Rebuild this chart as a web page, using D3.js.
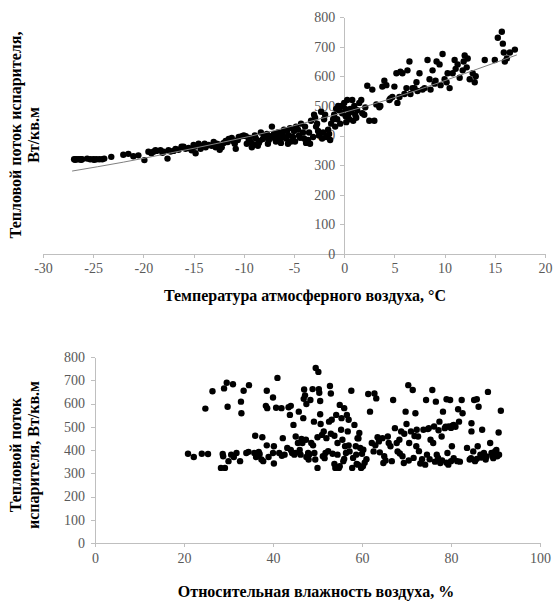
<!DOCTYPE html>
<html>
<head>
<meta charset="utf-8">
<script src="https://cdn.jsdelivr.net/npm/d3@7/dist/d3.min.js"></script>
<style>
  html, body { margin: 0; padding: 0; background: #fff; }
  svg { display: block; }
  .tick text { font-family: "Liberation Serif", "Times New Roman", Times, serif; font-size: 14px; fill: #595959; }
  .axis path, .axis line { stroke: #bfbfbf; shape-rendering: crispEdges; }
  .axis-title { font-family: "Liberation Serif", "Times New Roman", Times, serif; font-size: 16px; font-weight: bold; fill: #000; }
  .dot { fill: #000; }
  .trend { fill: none; stroke: #808080; stroke-width: 1; }
</style>
</head>
<body>
<svg id="chart" width="558" height="601"></svg>
<script>
// Chart 1: heat flux of the evaporator vs outdoor air temperature, [°C, W/m2]
const TEMP_POINTS = [
  [-26.9,320],[-26.7,320],[-26.5,320],[-26.3,320],[-26.1,320],[-26.8,318],[-26.2,318],[-25.6,322],
  [-25.3,320],[-25.0,320],[-24.7,320],[-24.4,320],[-24.9,318],[-24.1,320],[-23.9,322],[-23.2,328],
  [-22.0,335],[-21.5,338],[-21.0,330],[-20.5,333],[-19.9,317],[-19.5,345],[-19.2,340],[-19.0,345],
  [-18.8,350],[-18.7,348],[-18.3,350],[-18.1,342],[-18.0,345],[-17.6,322],[-17.5,350],[-17.3,346],
  [-17.0,348],[-16.8,355],[-16.5,352],[-16.2,362],[-16.0,362],[-15.8,355],[-15.5,358],[-15.2,350],
  [-15.0,368],[-14.9,362],[-14.8,340],[-14.5,372],[-14.3,355],[-14.2,365],[-13.9,372],[-13.8,360],
  [-13.5,368],[-13.2,365],[-13.0,378],[-12.8,360],[-12.7,372],[-12.5,370],[-12.2,360],[-12.0,375],
  [-11.8,382],[-11.6,378],[-11.5,388],[-11.2,392],[-11.0,380],[-10.8,355],[-10.6,385],[-10.5,395],
  [-10.2,398],[-10.0,400],[-9.8,398],[-9.7,372],[-9.5,385],[-9.3,378],[-9.2,360],[-9.0,370],
  [-8.9,400],[-8.8,390],[-8.6,365],[-8.5,375],[-8.3,410],[-8.1,388],[-8.0,400],[-7.8,395],
  [-7.7,405],[-7.5,385],[-7.3,398],[-7.2,430],[-7.0,405],[-6.9,390],[-6.8,380],[-6.6,410],
  [-6.5,395],[-6.3,375],[-6.2,410],[-6.1,400],[-6.0,420],[-5.8,390],[-5.7,415],[-5.5,400],
  [-5.4,425],[-5.3,380],[-5.1,395],[-5.0,415],[-4.9,380],[-4.8,430],[-4.6,420],[-4.5,400],
  [-4.3,440],[-4.1,410],[-4.0,390],[-3.9,430],[-3.8,375],[-3.6,385],[-3.5,410],[-3.3,450],
  [-3.1,395],[-3.0,470],[-2.9,460],[-2.8,430],[-2.6,415],[-2.5,400],[-2.3,480],[-2.2,390],
  [-2.0,455],[-1.9,470],[-1.8,395],[-1.6,420],[-1.5,405],[-1.3,440],[-1.1,455],[-1.0,470],
  [-0.9,430],[-0.8,490],[-0.6,500],[-0.5,485],[-0.3,500],[-0.2,475],[0.0,510],[0.1,490],
  [0.2,445],[0.3,520],[0.4,470],[0.5,455],[0.6,490],[0.7,480],[0.8,520],[0.9,450],
  [1.0,500],[1.2,460],[1.3,485],[1.5,510],[1.7,520],[1.8,475],[2.0,470],[2.1,495],
  [2.3,568],[2.5,450],[2.8,555],[3.0,450],[3.2,505],[3.5,495],[3.6,500],[3.8,565],
  [4.0,585],[4.2,570],[4.5,520],[4.6,525],[4.8,530],[5.0,565],[5.2,610],[5.3,510],
  [5.5,530],[5.6,615],[5.8,610],[6.0,540],[6.2,560],[6.3,620],[6.5,650],[6.6,540],
  [6.8,560],[7.0,560],[7.2,580],[7.3,550],[7.5,610],[7.8,555],[8.0,560],[8.3,655],
  [8.5,590],[8.6,555],[8.8,620],[9.0,575],[9.1,585],[9.2,650],[9.5,640],[9.6,570],
  [9.8,675],[10.0,590],[10.2,580],[10.3,610],[10.5,560],[10.8,610],[11.0,655],[11.1,625],
  [11.3,640],[11.5,595],[11.8,620],[11.9,650],[12.0,670],[12.2,630],[12.3,660],[12.5,590],
  [12.8,610],[13.0,580],[13.1,600],[14.0,655],[15.0,655],[15.3,730],[15.7,750],[15.8,710],
  [15.9,680],[16.0,650],[16.2,660],[16.5,680],[17.0,690],
  [-9.4,392],[-8.4,382],[-7.6,372],[-6.4,388],[-5.6,372],[-4.4,392],[-3.4,372],[-2.7,440],
  [-2.1,410],[-1.4,385],[-0.7,455],[-0.4,440],[0.15,465],[1.1,470],[-12.4,352],[-10.9,372]
];

// Trend curve
const TREND_POINTS = [
  [-27.1,280],[-22,310],[-17.3,341],[-12,378],[-7,416],[-2,460],[0,478],[2.6,503],[7,550],[12,609],[17.2,672]
];

// Chart 2: heat flux of the evaporator vs relative air humidity, [%, W/m2]
const HUMIDITY_POINTS = [
  [20.9,384],[22.2,370],[24.0,384],[25.4,383],[24.8,578],[26.4,653],[28.7,383],[28.3,323],
  [29.2,323],[28.8,373],[29.0,665],[29.6,689],[29.8,586],[31.0,683],[30.6,380],[31.8,387],
  [32.6,352],[32.8,608],[32.9,558],[33.4,655],[34.6,679],[34.0,387],[36.0,461],[35.8,387],
  [36.2,370],[37.4,359],[37.6,455],[37.8,352],[38.4,590],[38.7,580],[38.6,655],[38.6,420],
  [40.0,626],[40.2,416],[40.0,387],[40.2,342],[40.7,582],[41.0,710],[41.4,387],[41.9,580],
  [42.2,451],[42.6,380],[43.2,409],[43.5,584],[43.8,551],[44.0,590],[44.3,387],[44.6,508],
  [45.1,458],[45.0,387],[45.8,565],[46.2,380],[46.6,430],[46.8,537],[46.9,620],[47.0,660],
  [47.2,635],[47.4,444],[47.5,598],[47.9,387],[48.0,359],[48.4,615],[48.6,430],[48.9,662],
  [49.2,522],[49.3,387],[49.5,359],[49.6,753],[50.0,323],[50.2,736],[50.3,662],[50.4,646],
  [50.6,611],[50.6,554],[50.7,512],[51.0,465],[51.2,373],[51.4,480],[51.8,387],[52.0,451],
  [52.6,522],[52.8,675],[53.0,643],[53.2,530],[53.4,384],[53.8,461],[54.0,323],[54.2,551],
  [54.5,380],[54.8,323],[55.0,594],[55.3,487],[55.4,537],[55.6,444],[55.8,352],[56.0,580],
  [56.2,416],[56.4,387],[56.6,551],[56.8,480],[57.0,530],[57.2,394],[57.6,655],[57.8,323],
  [58.0,366],[58.3,508],[58.6,416],[58.7,380],[59.0,451],[59.1,337],[59.4,473],[59.6,409],
  [59.8,323],[60.0,384],[60.2,330],[60.3,401],[61.4,641],[61.8,565],[62.2,430],[62.6,394],
  [62.8,643],[63.2,622],[63.5,455],[63.8,437],[64.6,451],[64.8,344],[65.0,373],[65.8,458],
  [66.4,416],[66.7,352],[67.0,615],[67.4,494],[67.8,430],[68.0,394],[68.4,444],[68.8,480],
  [69.1,373],[69.4,344],[69.8,565],[70.0,512],[70.4,679],[70.6,430],[71.0,480],[71.4,658],
  [71.6,366],[72.0,558],[72.2,416],[72.3,487],[72.6,458],[73.1,342],[73.8,487],[74.2,337],
  [74.4,615],[74.6,380],[75.0,494],[75.4,444],[75.8,658],[76.0,430],[76.2,501],[76.6,608],
  [76.8,380],[77.1,366],[77.4,522],[77.6,344],[77.9,458],[78.2,565],[78.6,494],[79.0,618],
  [79.2,387],[79.4,337],[79.5,501],[79.8,615],[80.0,352],[80.2,416],[80.3,504],[80.6,508],
  [81.4,352],[81.6,575],[81.8,522],[82.4,615],[82.6,558],[83.6,409],[84.2,359],[84.6,515],
  [84.6,480],[85.0,394],[85.2,615],[85.4,352],[85.8,618],[86.0,416],[86.2,586],[86.6,380],
  [87.0,487],[87.4,387],[87.8,359],[88.3,650],[88.8,430],[89.1,387],[89.4,373],[89.9,394],
  [90.4,373],[90.7,475],[91.2,569],[90.8,380],
  [47.5,370],[48.2,382],[51.6,365],[52.4,395],[53.8,340],[55.0,330],[56.0,362],[58.8,340],
  [60.6,345],[61.0,360],[64.0,390],[65.3,355],[68.5,385],[70.5,355],[72.8,395],[73.5,360],
  [75.2,360],[76.4,350],[78.0,355],[79.0,345],[80.6,365],[82.0,350],[84.5,365],[85.8,362],
  [86.8,368],[88.0,372],[89.5,365],[90.2,400],[44.0,400],[42.0,375],[39.0,370],[37.0,383],
  [34.5,392],[31.2,370],[30.0,352],[36.8,392],[46.0,400],[44.8,380],[54.5,430],[57.0,420],
  [59.2,450],[63.0,420],[66.0,430],[69.5,470],[71.8,460],[74.8,490],[77.2,485],[78.8,500],
  [80.0,495],[81.0,500],[53.0,470],[50.0,455],[49.0,420],[46.4,448],[45.6,430]
];

const TEMP_TICKS = [-30, -25, -20, -15, -10, -5, 0, 5, 10, 15, 20];
const HUMIDITY_TICKS = [0, 20, 40, 60, 80, 100];
const FLUX_TICKS_1 = [0, 100, 200, 300, 400, 500, 600, 700, 800];
const FLUX_TICKS_2 = [0, 100, 200, 300, 400, 500, 600, 700, 800];

(function () {
  'use strict';

  const svg = d3.select('#chart');
  const dotR = 3.2;

  // ---- Chart 1: temperature ----
  const x1 = d3.scaleLinear().domain([-30, 20]).range([43, 545]);
  const y1 = d3.scaleLinear().domain([0, 800]).range([254, 17]);

  svg.append('g')
    .attr('class', 'axis')
    .attr('transform', `translate(0,${y1(0)})`)
    .call(d3.axisBottom(x1).tickValues(TEMP_TICKS).tickSize(4).tickSizeOuter(0).tickPadding(5)
      .tickFormat(d => d < 0 ? '-' + Math.abs(d) : String(d)));

  svg.append('g')
    .attr('class', 'axis')
    .attr('transform', `translate(${x1(0)},0)`)
    .call(d3.axisLeft(y1).tickValues(FLUX_TICKS_1).tickSize(4).tickSizeOuter(0).tickPadding(5));

  svg.append('g')
    .selectAll('circle')
    .data(TEMP_POINTS)
    .join('circle')
    .attr('class', 'dot')
    .attr('cx', d => x1(d[0]))
    .attr('cy', d => y1(d[1]))
    .attr('r', dotR);

  svg.append('path')
    .datum(TREND_POINTS)
    .attr('class', 'trend')
    .attr('d', d3.line().x(d => x1(d[0])).y(d => y1(d[1])).curve(d3.curveMonotoneX));

  svg.append('text')
    .attr('class', 'axis-title')
    .attr('x', 305).attr('y', 301)
    .attr('text-anchor', 'middle')
    .text('Температура атмосферного воздуха, °С');

  const yt1 = svg.append('text')
    .attr('class', 'axis-title')
    .attr('text-anchor', 'middle')
    .attr('transform', 'translate(21,135) rotate(-90)');
  yt1.append('tspan').attr('x', 0).attr('y', 0).text('Тепловой поток испарителя,');
  yt1.append('tspan').attr('x', 0).attr('y', 18).text('Вт/кв.м');

  // ---- Chart 2: humidity ----
  const x2 = d3.scaleLinear().domain([0, 100]).range([95, 540]);
  const y2 = d3.scaleLinear().domain([0, 800]).range([543, 357]);

  svg.append('g')
    .attr('class', 'axis')
    .attr('transform', `translate(0,${y2(0)})`)
    .call(d3.axisBottom(x2).tickValues(HUMIDITY_TICKS).tickSize(4).tickSizeOuter(0).tickPadding(6));

  svg.append('g')
    .attr('class', 'axis')
    .attr('transform', `translate(${x2(0)},0)`)
    .call(d3.axisLeft(y2).tickValues(FLUX_TICKS_2).tickSize(4).tickSizeOuter(0).tickPadding(6));

  svg.append('g')
    .selectAll('circle')
    .data(HUMIDITY_POINTS)
    .join('circle')
    .attr('class', 'dot')
    .attr('cx', d => x2(d[0]))
    .attr('cy', d => y2(d[1]))
    .attr('r', dotR);

  svg.append('text')
    .attr('class', 'axis-title')
    .attr('x', 316).attr('y', 597)
    .attr('text-anchor', 'middle')
    .text('Относительная влажность воздуха, %');

  const yt2 = svg.append('text')
    .attr('class', 'axis-title')
    .attr('text-anchor', 'middle')
    .attr('transform', 'translate(21,455) rotate(-90)');
  yt2.append('tspan').attr('x', 0).attr('y', 0).text('Тепловой поток');
  yt2.append('tspan').attr('x', 0).attr('y', 18).text('испарителя, Вт/кв.м');
})();
</script>
</body>
</html>
